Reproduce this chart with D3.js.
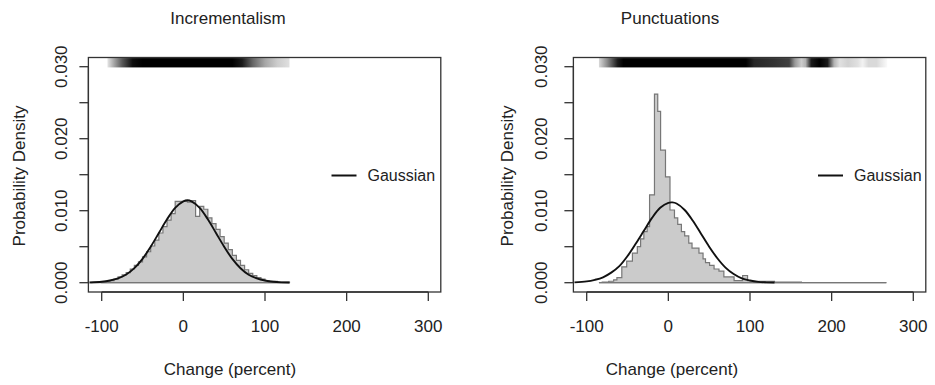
<!DOCTYPE html>
<html>
<head>
<meta charset="utf-8">
<script src="https://cdn.jsdelivr.net/npm/d3@7"></script>
<style>
  html, body { margin: 0; padding: 0; background: #fff; }
  svg { display: block; font-family: "Liberation Sans", Arial, sans-serif; }
</style>
</head>
<body>
<svg id="chart" width="935" height="385"></svg>
<script>
// --- data ---
const xTicks = [-100, 0, 100, 200, 300];
const yTicks = [0, 0.005, 0.010, 0.015, 0.020, 0.025, 0.030];
const yLabelTicks = [0, 0.010, 0.020, 0.030];

// Incrementalism histogram (5-unit bins)
const incrEdges = d3.range(-100, 131, 5);
const incrDensity = [
  0.0001, 0.0002, 0.0003, 0.0005, 0.0008, 0.0011, 0.0014, 0.0019, 0.0024, 0.0029,
  0.0036, 0.0043, 0.0051, 0.0059, 0.0069, 0.0078, 0.0087, 0.0096, 0.0113, 0.0113,
  0.0113, 0.0112, 0.0114, 0.0092, 0.0106, 0.0102, 0.0090, 0.0082, 0.0074, 0.0064,
  0.0055, 0.0046, 0.0038, 0.0031, 0.0024, 0.0018, 0.0013, 0.0010, 0.0007, 0.0005,
  0.0003, 0.0002, 0.0002, 0.0001, 0.0001, 0.0001
];

// Punctuations histogram (bar edges as read)
const punctEdges = [
  -85, -81, -73, -67, -63, -57, -51, -44, -38, -34,
  -30, -26, -23, -17, -13, -9.5, -3.5, 2, 7.5, 11.5,
  16, 20, 25, 29, 37.5, 42.5, 45.5, 50.5, 56, 62,
  68, 80.5, 91, 97, 103, 130, 163, 267
];
const punctDensity = [
  0.0000, 0.0001, 0.0002, 0.0004, 0.0007, 0.0022, 0.0030, 0.0041, 0.0050, 0.0061,
  0.0071, 0.0078, 0.0122, 0.0262, 0.0238, 0.0184, 0.0147, 0.0101, 0.0090, 0.0081,
  0.0071, 0.0065, 0.0055, 0.0048, 0.0041, 0.0033, 0.0028, 0.0024, 0.0019, 0.0016,
  0.0008, 0.0003, 0.0010, 0.0003, 0.0002, 0.0001, 0.0000
];

// Gaussian curves
const gaussX = [-115, -100, -90, -80, -70, -60, -50, -40, -30, -20, -10, 0, 5, 10,
  20, 30, 40, 50, 60, 70, 80, 90, 100, 110, 120, 130];
const incrGauss = [0.00003, 0.00013, 0.0003, 0.0006, 0.00114, 0.00203, 0.00332, 0.0050,
  0.0069, 0.0088, 0.0104, 0.0113, 0.01145, 0.0113, 0.0104, 0.0088, 0.0069, 0.0050, 0.0033,
  0.0020, 0.0011, 0.0006, 0.0003, 0.00013, 0.00005, 0.00002];
const punctGauss = [0.00005, 0.00018, 0.0004, 0.00075, 0.0014, 0.0023, 0.0037, 0.0054,
  0.0072, 0.0090, 0.0104, 0.0111, 0.01115, 0.0110, 0.0101, 0.0086, 0.0068, 0.0050, 0.0034,
  0.0021, 0.0012, 0.0006, 0.0003, 0.00012, 0.00005, 0.00002];

// density strips on top: position and darkness (0 = white, 1 = black)
const incrStripX = [-93, -85, -75, -62, -50, 60, 72, 85, 100, 115, 130];
const incrStripShade = [0.1, 0.35, 0.65, 0.95, 1, 1, 0.9, 0.6, 0.35, 0.2, 0.12];
const punctStripX = [-85, -75, -62, -55, 95, 105, 130, 148, 155, 163, 168, 175, 185,
  195, 203, 210, 220, 232, 238, 245, 255, 262, 268];
const punctStripShade = [0.15, 0.45, 0.9, 1, 1, 0.85, 0.8, 0.75, 0.4, 0.2, 0.3, 0.9, 1,
  0.9, 0.3, 0.12, 0.18, 0.12, 0.05, 0.15, 0.15, 0.08, 0.02];

const svg = d3.select('#chart');
const defs = svg.append('defs');

function drawPanel(p) {
  const x = d3.scaleLinear().domain([-100, 300]).range([p.x0, p.x0 + 326.6]);
  const y = d3.scaleLinear().domain([0, 0.030]).range([282.7, 66.7]);
  const frame = { l: x(-116.3), r: x(315.3), t: 57.5, b: 292 };
  const g = svg.append('g');

  // histogram: fill + outline
  const pts = [[p.edges[0], 0]];
  p.dens.forEach((d, i) => { pts.push([p.edges[i], d], [p.edges[i + 1], d]); });
  pts.push([p.edges[p.edges.length - 1], 0]);
  g.append('path')
    .attr('d', d3.line().x(d => x(d[0])).y(d => y(d[1]))(pts) + 'Z')
    .attr('fill', '#cbcbcb')
    .attr('stroke', '#777')
    .attr('stroke-width', 1.2);
  g.append('line')
    .attr('x1', x(p.baseFrom)).attr('x2', x(p.edges[p.edges.length - 1]))
    .attr('y1', y(0)).attr('y2', y(0))
    .attr('stroke', '#777').attr('stroke-width', 1.2);

  // gaussian
  g.append('path')
    .datum(gaussX.map((v, i) => [v, p.gauss[i]]))
    .attr('d', d3.line().x(d => x(d[0])).y(d => y(d[1])).curve(d3.curveCatmullRom.alpha(0.5)))
    .attr('fill', 'none')
    .attr('stroke', '#111')
    .attr('stroke-width', 1.9);

  // density strip
  const sx0 = p.stripX[0], sx1 = p.stripX[p.stripX.length - 1];
  const grad = defs.append('linearGradient').attr('id', p.id + '-strip')
    .attr('gradientUnits', 'userSpaceOnUse')
    .attr('x1', x(sx0)).attr('x2', x(sx1)).attr('y1', 0).attr('y2', 0);
  p.stripX.forEach((v, i) => {
    grad.append('stop')
      .attr('offset', (x(v) - x(sx0)) / (x(sx1) - x(sx0)))
      .attr('stop-color', d3.interpolateRgb('#fff', '#000')(p.stripShade[i]));
  });
  g.append('rect')
    .attr('x', x(sx0)).attr('width', x(sx1) - x(sx0))
    .attr('y', y(0.0312)).attr('height', y(0.0299) - y(0.0312))
    .attr('fill', `url(#${p.id}-strip)`);

  // frame
  g.append('rect')
    .attr('x', frame.l).attr('y', frame.t)
    .attr('width', frame.r - frame.l).attr('height', frame.b - frame.t)
    .attr('fill', 'none').attr('stroke', '#333').attr('stroke-width', 1.3);

  // x axis
  const xa = g.append('g').attr('stroke', '#333').attr('stroke-width', 1.3);
  xa.append('line').attr('x1', x(-100)).attr('x2', x(300))
    .attr('y1', frame.b).attr('y2', frame.b);
  xa.selectAll('line.tick').data(xTicks).join('line').attr('class', 'tick')
    .attr('x1', d => x(d)).attr('x2', d => x(d))
    .attr('y1', frame.b).attr('y2', frame.b + 9);
  g.selectAll('text.xt').data(xTicks).join('text').attr('class', 'xt')
    .attr('x', d => x(d)).attr('y', 331.5)
    .attr('text-anchor', 'middle').attr('font-size', 17).attr('fill', '#222')
    .text(d => d);

  // y axis
  const ya = g.append('g').attr('stroke', '#333').attr('stroke-width', 1.3);
  ya.append('line').attr('x1', frame.l).attr('x2', frame.l)
    .attr('y1', y(0)).attr('y2', y(0.030));
  ya.selectAll('line.tick').data(yTicks).join('line').attr('class', 'tick')
    .attr('x1', frame.l - 9).attr('x2', frame.l)
    .attr('y1', d => y(d)).attr('y2', d => y(d));
  g.selectAll('text.yt').data(yLabelTicks).join('text').attr('class', 'yt')
    .attr('transform', d => `translate(${p.yLabX},${y(d)}) rotate(-90)`)
    .attr('text-anchor', 'middle').attr('font-size', 17).attr('fill', '#222')
    .text(d => d3.format('.3f')(d));

  // titles
  g.append('text').attr('x', p.titleX).attr('y', 24)
    .attr('text-anchor', 'middle').attr('font-size', 17).attr('fill', '#222')
    .text(p.title);
  g.append('text').attr('x', p.titleX + 2).attr('y', 375)
    .attr('text-anchor', 'middle').attr('font-size', 17).attr('fill', '#222')
    .text('Change (percent)');
  g.append('text')
    .attr('transform', `translate(${p.yTitleX},176) rotate(-90)`)
    .attr('text-anchor', 'middle').attr('font-size', 17).attr('fill', '#222')
    .text('Probability Density');

  // legend
  g.append('line').attr('x1', p.legX).attr('x2', p.legX + 25)
    .attr('y1', 175.5).attr('y2', 175.5)
    .attr('stroke', '#111').attr('stroke-width', 2);
  g.append('text').attr('x', p.legX + 36).attr('y', 181)
    .attr('font-size', 16).attr('fill', '#222').text('Gaussian');
}

drawPanel({
  id: 'incr', title: 'Incrementalism', x0: 101.7, titleX: 228,
  edges: incrEdges, dens: incrDensity, gauss: incrGauss, baseFrom: -113,
  stripX: incrStripX, stripShade: incrStripShade,
  yLabX: 66.5, yTitleX: 25, legX: 331.5
});
drawPanel({
  id: 'punct', title: 'Punctuations', x0: 586.7, titleX: 670,
  edges: punctEdges, dens: punctDensity, gauss: punctGauss, baseFrom: -85,
  stripX: punctStripX, stripShade: punctStripShade,
  yLabX: 547, yTitleX: 513, legX: 818
});
</script>
</body>
</html>
